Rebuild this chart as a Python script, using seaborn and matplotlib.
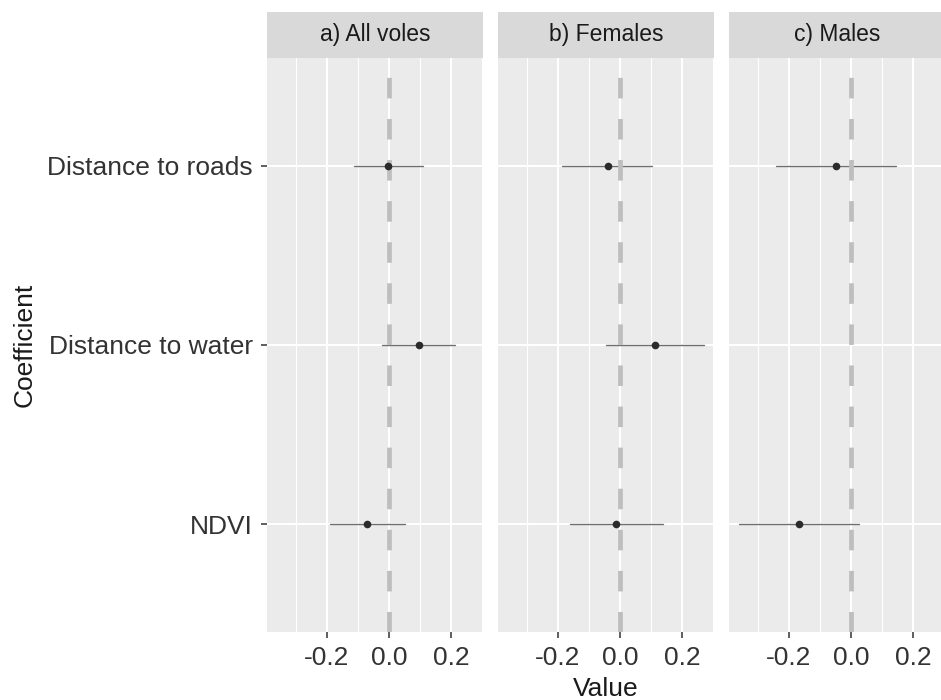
import numpy as np
import pandas as pd
import matplotlib
matplotlib.use("Agg")
import matplotlib.pyplot as plt
from matplotlib.ticker import FixedLocator
import seaborn as sns

# ---- data ----
coefficients = ["Distance to roads", "Distance to water", "NDVI"]
panels = ["a) All voles", "b) Females", "c) Males"]

all_coef = ["Distance to roads", "Distance to water", "NDVI"]
all_est = [-0.002, 0.097, -0.070]
all_low = [-0.113, -0.023, -0.190]
all_high = [0.109, 0.214, 0.053]

fem_coef = ["Distance to roads", "Distance to water", "NDVI"]
fem_est = [-0.040, 0.113, -0.012]
fem_low = [-0.187, -0.044, -0.161]
fem_high = [0.103, 0.271, 0.139]

male_coef = ["Distance to roads", "NDVI"]
male_est = [-0.047, -0.168]
male_low = [-0.241, -0.361]
male_high = [0.144, 0.027]

x_ticks = [-0.2, 0.0, 0.2]
x_minor = [-0.3, -0.1, 0.1, 0.3]
x_ticklabels = ["-0.2", "0.0", "0.2"]

# long table: low / estimate / high rows per coefficient (median = estimate, range = CI)
rows = []
for pan, cs, es, ls, hs in [(panels[0], all_coef, all_est, all_low, all_high),
                            (panels[1], fem_coef, fem_est, fem_low, fem_high),
                            (panels[2], male_coef, male_est, male_low, male_high)]:
    for c, e, l, h in zip(cs, es, ls, hs):
        for v in (l, e, h):
            rows.append({"panel": pan, "Coefficient": c, "Value": v})
df = pd.DataFrame(rows)

sns.set_theme(style="darkgrid")
plt.rcParams["font.family"] = ["Liberation Sans", "DejaVu Sans"]

W, H = 941, 700
fig = plt.figure(figsize=(W / 100, H / 100), dpi=100)

def ax_rect(x0, y0, x1, y1):
    return [x0 / W, 1 - y1 / H, (x1 - x0) / W, (y1 - y0) / H]

panel_x = [(267, 483), (498, 714), (729, 945)]
ptop, pbot = 58, 632
stop = 12

vmin, vmax = df["Value"].min(), df["Value"].max()
pad = (vmax - vmin) * 0.05
xlim = (vmin - pad, vmax + pad)

for i, (pan, (x0, x1)) in enumerate(zip(panels, panel_x)):
    ax = fig.add_axes(ax_rect(x0, ptop, x1, pbot))
    sub = df[df["panel"] == pan]
    sns.pointplot(data=sub, x="Value", y="Coefficient", order=coefficients,
                  estimator="median", errorbar=("pi", 100), orient="h",
                  color="#2b2b2b", markers="o", linestyle="none",
                  markersize=5.5, markeredgewidth=0, zorder=4,
                  err_kws={"color": "#6f6f6f", "linewidth": 1.0, "zorder": 2},
                  ax=ax)
    ax.axvline(0, color="#bebebe", lw=3.4, dashes=(4.35, 4.35), zorder=3)
    ax.set_facecolor("#ebebeb")
    ax.set_xlim(xlim)
    ax.set_ylim(2.6, -0.6)
    ax.xaxis.set_major_locator(FixedLocator(x_ticks))
    ax.xaxis.set_minor_locator(FixedLocator(x_minor))
    ax.set_xticklabels(x_ticklabels)
    ax.grid(True, which="major", color="white", lw=1.5)
    ax.grid(True, which="minor", axis="x", color="white", lw=0.8)
    ax.set_axisbelow(True)
    for s in ax.spines.values():
        s.set_visible(False)
    ax.tick_params(axis="both", which="major", length=4.5, width=1.1, color="#333333",
                   labelsize=19, labelcolor="#333333", pad=5.5)
    ax.tick_params(axis="both", which="minor", length=0)
    ax.tick_params(axis="x", bottom=True)
    ax.set_xlabel("")
    ax.set_ylabel("")
    if i == 0:
        ax.tick_params(axis="y", left=True)
    else:
        ax.tick_params(axis="y", left=False, labelleft=False)

    sax = fig.add_axes(ax_rect(x0, stop, x1, ptop))
    sax.set_facecolor("#d9d9d9")
    sax.set_xticks([]); sax.set_yticks([])
    for s in sax.spines.values():
        s.set_visible(False)
    sax.text(0.5, 0.5, pan, ha="center", va="center", fontsize=16.5,
             color="#1a1a1a", transform=sax.transAxes)

fig.text((267 + 945) / 2 / W, 1 - 689 / H, "Value", ha="center", va="center",
         fontsize=19, color="#1a1a1a")
fig.text(25 / W, 1 - (ptop + pbot) / 2 / H, "Coefficient", ha="center", va="center",
         rotation=90, fontsize=19, color="#1a1a1a")

fig.savefig("out.png", dpi=100)
